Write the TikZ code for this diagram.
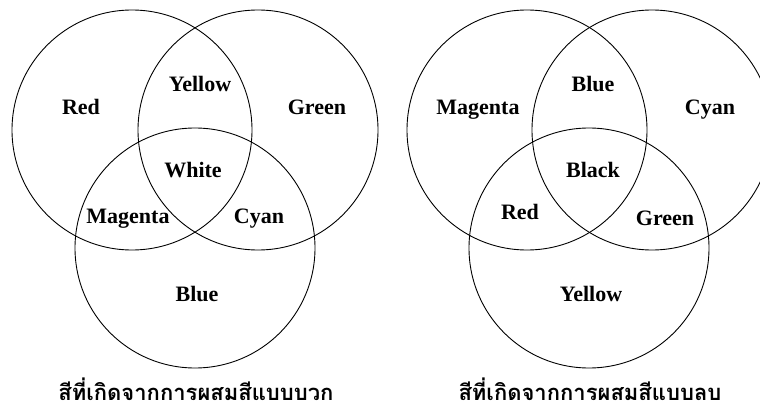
\documentclass[tikz,border=0pt]{standalone}
\usepackage{fontspec}
\setmainfont{Liberation Serif}
\newfontfamily\thaifont[Script=Thai]{Loma}
\begin{document}
\begin{tikzpicture}[x=1pt,y=-1pt,
  ring/.style={line width=0.9pt},
  lbl/.style={font=\fontsize{22}{24}\selectfont\bfseries, inner sep=0pt, anchor=base},
  captxt/.style={font=\thaifont\bfseries\fontsize{22}{24}\selectfont, inner sep=0pt, anchor=base}]
\useasboundingbox (0,0) rectangle (760,409);
\clip (0,0) rectangle (760,409);
% additive
\draw[ring] (132,130) circle[radius=120];
\draw[ring] (258,130) circle[radius=120];
\draw[ring] (195,248) circle[radius=120];
\node[lbl] (aRed) at (81,115) {Red};
\node[lbl] (aYellow) at (200,92) {Yellow};
\node[lbl] (aGreen) at (317,115) {Green};
\node[lbl] (aWhite) at (193,177) {White};
\node[lbl] (aMagenta) at (128,223) {Magenta};
\node[lbl] (aCyan) at (259,223) {Cyan};
\node[lbl] (aBlue) at (197,301) {Blue};
\node[captxt] (aCap) at (196,400) {สีที่เกิดจากการผสมสีแบบบวก};
% subtractive
\draw[ring] (527,130) circle[radius=120];
\draw[ring] (652,130) circle[radius=120];
\draw[ring] (589,248) circle[radius=120];
\node[lbl] (sMagenta) at (478,115) {Magenta};
\node[lbl] (sBlue) at (593,92) {Blue};
\node[lbl] (sCyan) at (710,115) {Cyan};
\node[lbl] (sBlack) at (593,177) {Black};
\node[lbl] (sRed) at (520,219) {Red};
\node[lbl] (sGreen) at (665,225) {Green};
\node[lbl] (sYellow) at (591,301) {Yellow};
\node[captxt] (sCap) at (590,400) {สีที่เกิดจากการผสมสีแบบลบ};
\end{tikzpicture}
\end{document}
